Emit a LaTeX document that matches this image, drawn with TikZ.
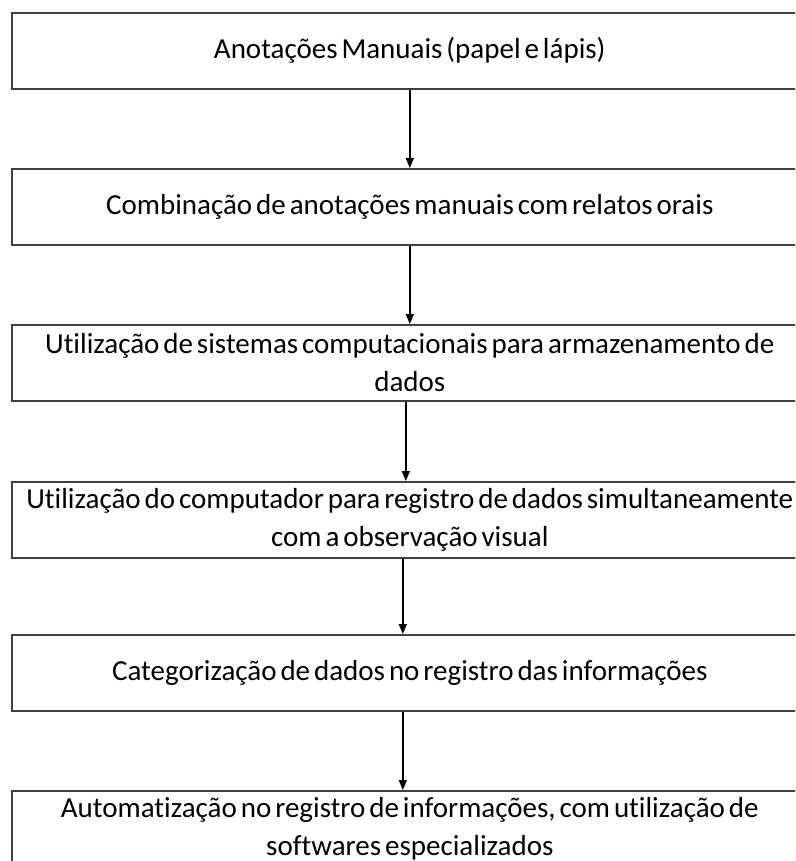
\documentclass[tikz,border=0pt]{standalone}
\usepackage{fontspec}
\setmainfont{Carlito}[RawFeature=-liga, WordSpace=0.6]
\usetikzlibrary{arrows.meta,positioning}
\tikzset{
  stepbox/.style={draw=black!75, line width=1.6pt, minimum width=796pt, minimum height=76pt,
    text width=790pt, align=flush center, inner sep=0pt,
    font=\fontsize{29}{38}\selectfont, anchor=north west},
  arr/.style={-{Triangle[length=10pt,width=8pt]}, line width=1.5pt, black}
}
\begin{document}
\begin{tikzpicture}[x=1pt,y=1pt]
\clip (0,0) rectangle (795,-861);
\fill[white] (0,0) rectangle (795,-861);
\node[stepbox] (b1) at (11,-12) {Anotações Manuais (papel e lápis)};
\node[stepbox] (b2) at (11,-168) {Combinação de anotações manuais com relatos orais};
\node[stepbox] (b3) at (11,-324) {Utilização de sistemas computacionais para armazenamento de\\dados};
\node[stepbox] (b4) at (11,-481) {Utilização do computador para registro de dados simultaneamente\\com a observação visual};
\node[stepbox] (b5) at (11,-634) {Categorização de dados no registro das informações};
\node[stepbox] (b6) at (11,-790) {Automatização no registro de informações, com utilização de\\softwares especializados};
\draw[arr] (b1.south) -- (b2.north);
\draw[arr] (b2.south) -- (b3.north);
\draw[arr] ([xshift=-4pt]b3.south) -- ([xshift=-4pt]b4.north);
\draw[arr] ([xshift=-7pt]b4.south) -- ([xshift=-7pt]b5.north);
\draw[arr] ([xshift=-7pt]b5.south) -- ([xshift=-7pt]b6.north);
\end{tikzpicture}
\end{document}
